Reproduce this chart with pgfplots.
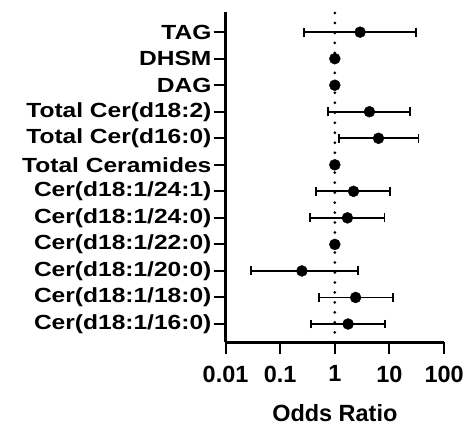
\documentclass[border=0pt]{standalone}
\usepackage{graphicx}
\usepackage{pgfplots}
\usepackage{pgfplotstable}
\pgfplotsset{compat=1.18}
\usepackage{fontspec}
\setmainfont{Liberation Sans}

% category labels are drawn a bit wider than Arial Bold in the reference
\newcommand{\yl}[1]{\scalebox{1.2}[1]{#1}}

% odds ratio with 95% CI, row 1 = bottom
\pgfplotstableread{
y  est   lo     hi
12 2.9   0.275  31
11 1.0   1.0    1.0
10 1.0   1.0    1.0
9  4.3   0.74   24
8  6.3   1.2    34
7  1.0   1.0    1.0
6  2.2   0.45   10.4
5  1.7   0.35   8.1
4  1.0   1.0    1.0
3  0.25  0.029  2.7
2  2.4   0.51   11.5
1  1.75  0.37   8.3
}\ordata

\begin{document}
\begin{tikzpicture}
\begin{axis}[
    scale only axis,
    width=219pt, height=331pt,
    xmode=log,
    xmin=0.01, xmax=100,
    ymin=0.31, ymax=12.76,
    xtick={0.01,0.1,1,10,100},
    xticklabels={0.01,0.1,1,10,100},
    xminorticks=false,
    ytick={1,...,12},
    yticklabels={\yl{Cer(d18:1/16:0)},\yl{Cer(d18:1/18:0)},\yl{Cer(d18:1/20:0)},
      \yl{Cer(d18:1/22:0)},\yl{Cer(d18:1/24:0)},\yl{Cer(d18:1/24:1)},
      \yl{Total Ceramides},\yl{Total Cer(d16:0)},\yl{Total Cer(d18:2)},
      \yl{DAG},\yl{DHSM},\yl{TAG}},
    axis x line*=bottom,
    axis y line*=left,
    axis line style={-, line width=2.4pt},
    tick align=outside,
    major tick length=12pt,
    tick style={line width=2pt, black},
    xticklabel style={font=\fontsize{23.5}{26}\selectfont\bfseries, yshift=-8pt},
    yticklabel style={font=\fontsize{20.5}{22}\selectfont\bfseries, inner sep=2pt},
    xlabel={Odds Ratio},
    xlabel style={font=\fontsize{23.5}{26}\selectfont\bfseries, yshift=-15pt},
    clip=false,
]
\addplot[black, line width=3pt, dash pattern=on 0pt off 10pt, line cap=round]
    coordinates {(1,0.31) (1,12.76)};
\addplot[only marks, mark=*, mark size=5.5pt, black,
    error bars/.cd, x dir=both, x explicit,
    error mark=|,
    error bar style={line width=1.9pt},
    error mark options={line width=1.9pt, mark size=4.5pt}]
    table[x=est, y=y,
      x error minus expr=\thisrow{est}-\thisrow{lo},
      x error plus expr=\thisrow{hi}-\thisrow{est}] {\ordata};
\end{axis}
\path ([xshift=-226pt,yshift=-82pt]current axis.south west)
    rectangle ([xshift=22pt,yshift=12pt]current axis.north east);
\end{tikzpicture}
\end{document}
